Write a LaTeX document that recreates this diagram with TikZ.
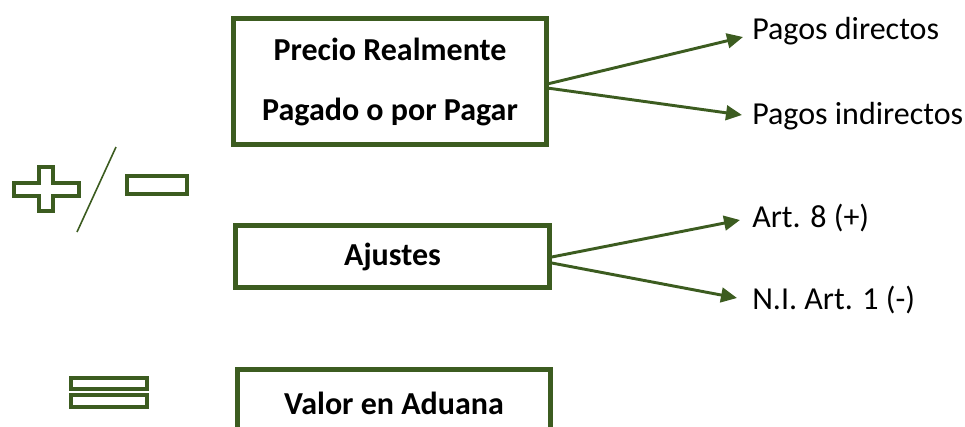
\documentclass[tikz,border=0pt]{standalone}
\definecolor{oliveline}{RGB}{60,92,32}
\usepackage{fontspec}
\setmainfont{Carlito}
\usepackage{tikz}
\usetikzlibrary{arrows.meta,positioning,calc}

\tikzset{
    valbox/.style={draw=oliveline,line width=3.9pt,minimum width=235pt,
        align=center,inner sep=0pt,font=\fontsize{24}{45}\selectfont\bfseries},
    lbl/.style={anchor=west,inner sep=0pt,font=\fontsize{24}{29}\selectfont},
    arr/.style={draw=oliveline,line width=2.2pt,-{Triangle[length=12pt,width=11pt]}},
    sym/.style={draw=oliveline,line width=3.3pt}
}

\begin{document}
\begin{tikzpicture}[x=0.75pt,y=-0.75pt]
                \useasboundingbox (0,0) rectangle (965,426);

                % Boxes
                \node[valbox,minimum height=94pt] (prp) at (390,81.5)
                    {Precio Realmente\\Pagado o por Pagar};
                \node[valbox,minimum height=46pt] (ajs) at (392.5,256.5) {Ajustes};
                \node[valbox,minimum height=50pt] (vad) at (394,403) {Valor en Aduana};

                % Labels
                \node[lbl] (pdir) at (752,31) {Pagos directos};
                \node[lbl] (pind) at (752,116) {Pagos indirectos};
                \node[lbl] (art8) at (752,218) {Art. 8 (+)};
                \node[lbl] (art1) at (752,300) {N.I. Art. 1 (-)};

                % Arrows
                \draw[arr] ($(prp.east)+(-2,2.5)$) -- ($(pdir.west)+(-9,6)$);
                \draw[arr] ($(prp.east)+(-2,6.5)$) -- ($(pind.west)+(-10,-1)$);
                \draw[arr] ($(ajs.east)+(0,0.5)$) -- ($(art8.west)+(-12,2)$);
                \draw[arr] ($(ajs.east)+(0,6.5)$) -- ($(art1.west)+(-15,-2)$);

                % Plus / minus
                \draw[sym] (39,167) -- (53,167) -- (53,183) -- (79,183) -- (79,196)
                    -- (53,196) -- (53,211) -- (39,211) -- (39,196) -- (14,196)
                    -- (14,183) -- (39,183) -- cycle;
                \draw[oliveline,line width=1.2pt] (116,147) -- (77,232);
                \draw[sym] (127,176) rectangle (187,194);

                % Equals
                \draw[sym] (71,378) rectangle (147,389);
                \draw[sym] (71,395) rectangle (147,407);
\end{tikzpicture}
\end{document}
